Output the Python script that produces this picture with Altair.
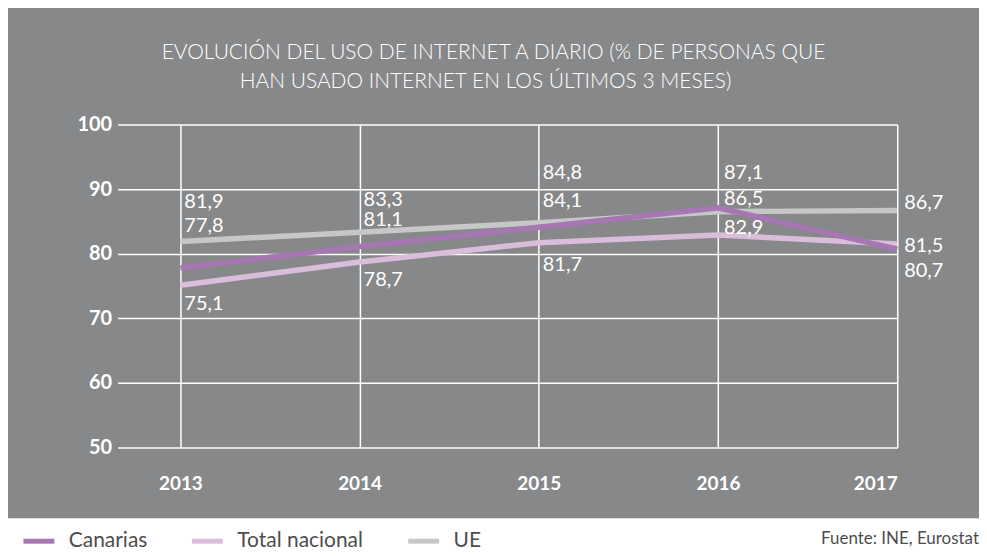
import altair as alt
import pandas as pd

# ---------------- data ----------------
YEARS = [2013, 2014, 2015, 2016, 2017]
CANARIAS = [77.8, 81.1, 84.1, 87.1, 80.7]
TOTAL_NACIONAL = [75.1, 78.7, 81.7, 82.9, 81.5]
UE = [81.9, 83.3, 84.8, 86.5, 86.7]
SERIES = ["Canarias", "Total nacional", "UE"]
Y_TICKS = [50, 60, 70, 80, 90, 100]
TITLE_LINES = [
    "EVOLUCIÓN DEL USO DE INTERNET A DIARIO (% DE PERSONAS QUE",
    "HAN USADO INTERNET EN LOS ÚLTIMOS 3 MESES)",
]
SOURCE = "Fuente: INE, Eurostat"

# ---------------- style ----------------
COLORS = ["#a677b2", "#dabdda", "#c6c7c8"]
PANEL = "#87888a"
# pixel offsets of each value label from its point (negative = up)
LABEL_DY = {
    "Canarias": [-41.5, -27, -25.8, -34.8, 22],
    "Total nacional": [19, 17.6, 22, -6.9, 1.7],
    "UE": [-40, -32.6, -49.6, -12.7, -7.4],
}
LABEL_DX = [4, 4, 4, 6, 7]

W, H = 782, 324
PAD = {"left": 110, "top": 116, "right": 82, "bottom": 102}
X_DOMAIN = [2012.65, 2017]
Y_DOMAIN = [50, 100]
px_y = H / (Y_DOMAIN[1] - Y_DOMAIN[0])
px_x = W / (X_DOMAIN[1] - X_DOMAIN[0])

rows = []
for name, vals in zip(SERIES, [CANARIAS, TOTAL_NACIONAL, UE]):
    for i, (yr, v) in enumerate(zip(YEARS, vals)):
        rows.append(dict(
            serie=name, year=yr, value=v,
            label=f"{v:.1f}".replace(".", ","),
            label_x=yr + LABEL_DX[i] / px_x,
            label_y=v - LABEL_DY[name][i] / px_y,
        ))
df = pd.DataFrame(rows)

FONT = "Lato"

x_axis = alt.Axis(values=YEARS, format="d", title=None, grid=True, gridColor="white",
                  gridWidth=1.5, gridOpacity=1, domain=False, ticks=False,
                  labelFont=FONT, labelFontWeight="bold", labelFontSize=19,
                  labelColor="white", labelPadding=27)
y_axis = alt.Axis(values=Y_TICKS, title=None, grid=True, gridColor="white",
                  gridWidth=1.5, gridOpacity=1, domain=False, ticks=False,
                  labelFont=FONT, labelFontWeight="bold", labelFontSize=20,
                  labelColor="white", labelPadding=6)
x_scale = alt.Scale(domain=X_DOMAIN, nice=False, zero=False)
y_scale = alt.Scale(domain=Y_DOMAIN, nice=False, zero=False)

color = alt.Color(
    "serie:N",
    scale=alt.Scale(domain=SERIES, range=COLORS),
    legend=alt.Legend(
        orient="none", legendX=-97, legendY=400, direction="horizontal",
        title=None, symbolType="stroke", symbolSize=961, symbolStrokeWidth=5,
        labelFont=FONT, labelFontSize=21, labelColor="#4d4d4d",
        labelOffset=12, columnPadding=34, padding=0,
    ),
)

base = alt.Chart(df)

lines = [
    base.transform_filter(alt.datum.serie == name)
    .mark_line(strokeWidth=5.5, strokeCap="butt")
    .encode(
        x=alt.X("year:Q", scale=x_scale, axis=x_axis),
        y=alt.Y("value:Q", scale=y_scale, axis=y_axis),
        color=color,
    )
    for name in ["UE", "Total nacional", "Canarias"]
]

labels = base.mark_text(align="left", baseline="middle", font=FONT, fontSize=20,
                        color="white").encode(
    x=alt.X("label_x:Q", scale=x_scale, axis=x_axis),
    y=alt.Y("label_y:Q", scale=y_scale, axis=y_axis),
    text="label:N",
)

one = pd.DataFrame({"k": [0]})
white_strip = alt.Chart(one).mark_rect(color="white").encode(
    x=alt.value(-PAD["left"]), x2=alt.value(W + PAD["right"]),
    y=alt.value(395), y2=alt.value(H + PAD["bottom"] + 4),
)
title1 = alt.Chart(one).mark_text(font=FONT, fontSize=21, fontWeight=300, color="white",
                                  align="center", baseline="middle").encode(
    x=alt.value(377), y=alt.value(-72), text=alt.value(TITLE_LINES[0]))
title2 = alt.Chart(one).mark_text(font=FONT, fontSize=21, fontWeight=300, color="white",
                                  align="center", baseline="middle").encode(
    x=alt.value(369), y=alt.value(-43), text=alt.value(TITLE_LINES[1]))
source = alt.Chart(one).mark_text(font=FONT, fontSize=17, color="#4d4d4d",
                                  align="right", baseline="middle").encode(
    x=alt.value(864), y=alt.value(416), text=alt.value(SOURCE))

chart = alt.layer(white_strip, title1, title2, *lines, labels, source).properties(
    width=W, height=H, padding=PAD,
    autosize=alt.AutoSizeParams(type="none"),
    background=PANEL,
).configure_view(stroke=None)

chart.save("out.html", embed_options={"renderer": "svg", "actions": False})
